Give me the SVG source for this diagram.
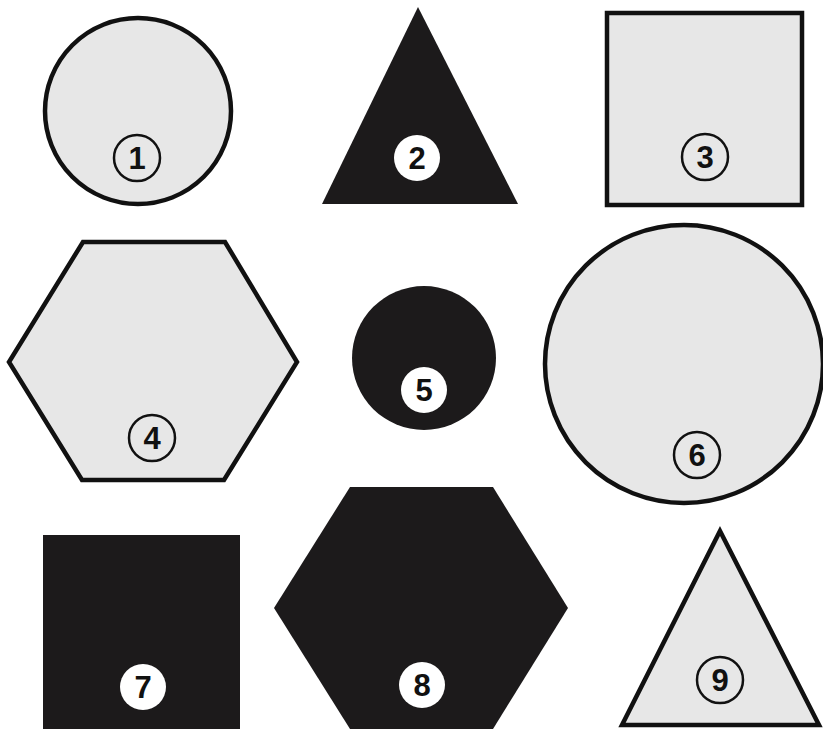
<svg xmlns="http://www.w3.org/2000/svg" width="823" height="729" viewBox="0 0 823 729">
<defs>
<style>
.lt{fill:#e7e7e7;stroke:#111;stroke-width:4.5;stroke-linejoin:miter}
.dk{fill:#1c1a1b;stroke:none}
.lbl-l{fill:none;stroke:#111;stroke-width:2.5}
.lbl-d{fill:#fff;stroke:none}
.num{font-family:"Liberation Sans",Arial,sans-serif;font-size:31px;font-weight:bold;text-anchor:middle;fill:#111}
</style>
</defs>
<rect width="823" height="729" fill="#fff"/>
<g id="node1">
<circle class="lt" cx="138" cy="111" r="93"/>
<circle class="lbl-l" cx="137" cy="158" r="23"/>
<text class="num" x="137" y="169">1</text>
</g>
<g id="node2">
<polygon class="dk" points="418,7 518,204 322,204"/>
<circle class="lbl-d" cx="417" cy="158" r="23"/>
<text class="num" x="417" y="169">2</text>
</g>
<g id="node3">
<rect class="lt" x="607" y="13" width="195" height="192"/>
<circle class="lbl-l" cx="705" cy="157" r="23"/>
<text class="num" x="705" y="168">3</text>
</g>
<g id="node4">
<polygon class="lt" points="83,242 225,242 297,362 224,480 82,480 9,362"/>
<circle class="lbl-l" cx="152" cy="438" r="23"/>
<text class="num" x="152" y="449">4</text>
</g>
<g id="node5">
<circle class="dk" cx="424" cy="358" r="72"/>
<circle class="lbl-d" cx="424" cy="390" r="23"/>
<text class="num" x="424" y="401">5</text>
</g>
<g id="node6">
<circle class="lt" cx="684" cy="364" r="139"/>
<circle class="lbl-l" cx="697" cy="455" r="23"/>
<text class="num" x="697" y="466">6</text>
</g>
<g id="node7">
<rect class="dk" x="43" y="535" width="197" height="200"/>
<circle class="lbl-d" cx="143" cy="687" r="23"/>
<text class="num" x="143" y="698">7</text>
</g>
<g id="node8">
<polygon class="dk" points="350,487 493,487 568,608 493,729 350,729 274,608"/>
<circle class="lbl-d" cx="422" cy="685" r="23"/>
<text class="num" x="422" y="696">8</text>
</g>
<g id="node9">
<polygon class="lt" points="720,531 819,725 622,725"/>
<circle class="lbl-l" cx="720" cy="680" r="23"/>
<text class="num" x="720" y="691">9</text>
</g>
<g id="connectors"></g>
</svg>
